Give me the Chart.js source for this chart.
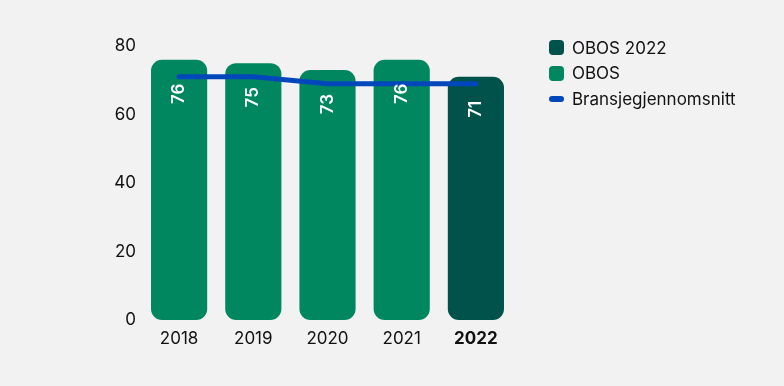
<!DOCTYPE html>
<html>
<head>
<meta charset="utf-8">
<script src="https://cdn.jsdelivr.net/npm/chart.js@4/dist/chart.umd.min.js"></script>
<style>
  html, body { margin: 0; padding: 0; background: #f2f2f2; }
  #wrap { position: relative; width: 784px; height: 386px; }
  #legend { position: absolute; left: 549px; top: 35px; font-family: Inter, sans-serif; font-size: 17px; color: #111; }
  .item { display: flex; align-items: center; height: 25.5px; }
  .sw { width: 15px; height: 15px; border-radius: 4px; margin-right: 8px; }
  .ln { width: 15px; height: 6px; border-radius: 3px; margin-right: 8px; }
</style>
</head>
<body>
<div id="wrap">
  <canvas id="myChart" width="784" height="386"></canvas>
  <div id="legend"></div>
</div>
<script>
// data
var years = ["2018", "2019", "2020", "2021", "2022"];
var obos = [76, 75, 73, 76, null];
var obos2022 = [null, null, null, null, 71];
var bransje = [71, 71, 69, 69, 69];
var yTicks = [0, 20, 40, 60, 80];

var green = "#00875f";
var darkGreen = "#00524a";
var blue = "#0047bb";
var fontFam = "Inter, sans-serif";

var myChart; //global

// white rotated value labels inside bars
var barLabels = {
  id: "barLabels",
  afterDatasetsDraw: function (chart) {
    var ctx = chart.ctx;
    ctx.save();
    ctx.fillStyle = "#ffffff";
    ctx.font = "600 17px " + fontFam;
    ctx.textAlign = "right";
    ctx.textBaseline = "middle";
    [0, 1].forEach(function (di) {
      var meta = chart.getDatasetMeta(di);
      meta.data.forEach(function (bar, i) {
        var v = chart.data.datasets[di].data[i];
        if (v == null) return;
        ctx.save();
        ctx.translate(bar.x, bar.y + 24);
        ctx.rotate(-Math.PI / 2);
        ctx.fillText(String(v), 0, 0);
        ctx.restore();
      });
    });
    ctx.restore();
  },
};

function buildChart() {
  var ctx = document.getElementById("myChart").getContext("2d");
  myChart = new Chart(ctx, {
    type: "bar",
    data: {
      labels: years,
      datasets: [
        {
          label: "OBOS 2022",
          data: obos2022,
          backgroundColor: darkGreen,
          borderRadius: 11,
          borderSkipped: false,
          grouped: false,
          order: 2,
        },
        {
          label: "OBOS",
          data: obos,
          backgroundColor: green,
          borderRadius: 11,
          borderSkipped: false,
          grouped: false,
          order: 2,
        },
        {
          type: "line",
          label: "Bransjegjennomsnitt",
          data: bransje,
          borderColor: blue,
          borderWidth: 5,
          borderCapStyle: "round",
          pointRadius: 0,
          tension: 0,
          order: 0,
        },
      ],
    },
    options: {
      responsive: false,
      animation: false,
      layout: { padding: { top: 46, right: 271, left: 0, bottom: 0 } },
      plugins: { legend: { display: false }, tooltip: { enabled: false } },
      datasets: { bar: { barPercentage: 0.757, categoryPercentage: 1 } },
      scales: {
        x: {
          grid: { display: false, drawTicks: false },
          border: { display: false },
          ticks: {
            padding: 9,
            color: "#111",
            font: function (c) {
              return { family: fontFam, size: 17, weight: c.index === 4 ? "bold" : "normal" };
            },
          },
          afterFit: function (s) { s.height = 66; },
        },
        y: {
          min: 0,
          max: 80,
          afterBuildTicks: function (s) {
            s.ticks = yTicks.map(function (v) { return { value: v }; });
          },
          grid: { display: false, drawTicks: false },
          border: { display: false },
          ticks: { padding: 6, color: "#111", font: { family: fontFam, size: 17 } },
          afterFit: function (s) { s.width = 142; },
        },
      },
    },
    plugins: [barLabels],
  });
}

function buildLegend() {
  var html = "";
  html += '<div class="item"><span class="sw" style="background:' + darkGreen + '"></span>OBOS 2022</div>';
  html += '<div class="item"><span class="sw" style="background:' + green + '"></span>OBOS</div>';
  html += '<div class="item"><span class="ln" style="background:' + blue + '"></span>Bransjegjennomsnitt</div>';
  document.getElementById("legend").innerHTML = html;
}

buildChart();
buildLegend();
</script>
</body>
</html>
